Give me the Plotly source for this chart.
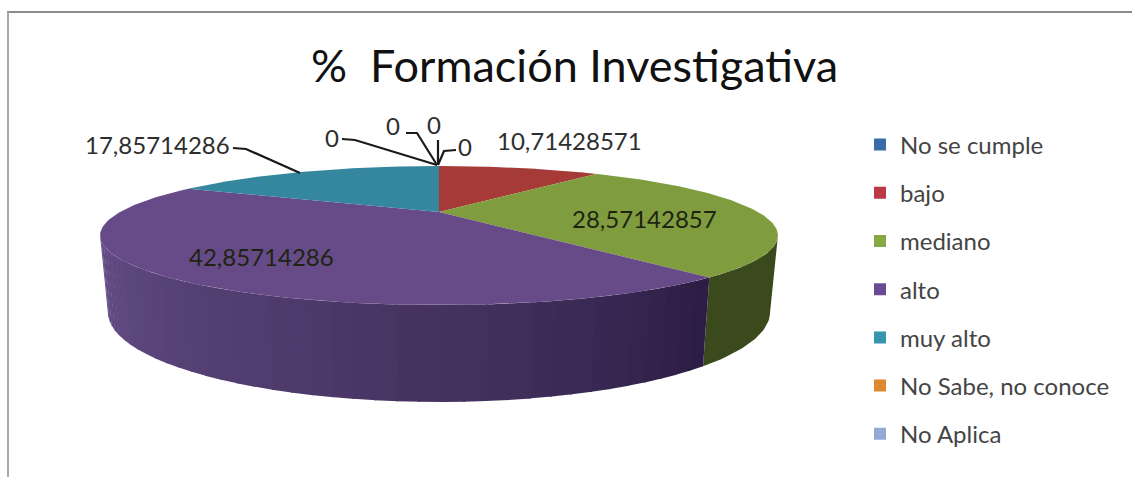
import numpy as np
import plotly.graph_objects as go

# ---- data ----
categories = ["No se cumple", "bajo", "mediano", "alto", "muy alto", "No Sabe, no conoce", "No Aplica"]
values = [0, 10.71428571, 28.57142857, 42.85714286, 17.85714286, 0, 0]
title_text = "%  Formación Investigativa"

# ---- styles ----
legend_colors = ["#376ca6", "#b83a44", "#86a845", "#6a4c93", "#3795ad", "#dd8a2e", "#93a9d3"]
top_colors = ["#376ca6", "#a63a36", "#7f9d3f", "#674a88", "#34879f", "#dd8a2e", "#93a9d3"]
side_colors = {0: "#223f60", 1: "#6d2a28", 2: "#3a4a1c", 4: "#225a6a", 5: "#8a5520", 6: "#5a6a85"}
purple_side_left = np.array([0x66, 0x4f, 0x88])
purple_side_right = np.array([0x2b, 0x1c, 0x42])
FONT = "Lato"

# ---- projection of the disc (pixel space axes) ----
CX, K = 439.0, 0.338
TOP = dict(a=319.0, b=61.6, c=212.0)
BOT = dict(a=311.6, b=79.6, c=281.7)


def ring(theta_deg, p):
    th = np.radians(theta_deg)
    u, v = np.sin(th), -np.cos(th)
    w = 1 - K * v
    return CX + p["a"] * u / w, p["c"] + p["b"] * v / w


fig = go.Figure()

# cumulative slice angles, clockwise from 12 o'clock
cum = np.concatenate([[0], np.cumsum(values)])
total = float(np.sum(values))
starts = cum[:-1] / total * 360
ends = cum[1:] / total * 360

vis_lo = np.degrees(np.arccos(-K))
vis_hi = 360 - vis_lo

# side wall
for i, (s, e) in enumerate(zip(starts, ends)):
    lo, hi = max(s, vis_lo), min(e, vis_hi)
    if values[i] == 0 or hi <= lo:
        continue
    n_strips = 40 if i == 3 else 1
    edges = np.linspace(lo, hi, n_strips + 1)
    for k in range(n_strips):
        th = np.linspace(edges[k], edges[k + 1] + (0.3 if k < n_strips - 1 else 0), 30)
        xt, yt = ring(th, TOP)
        xb, yb = ring(th[::-1], BOT)
        if i == 3:
            f = (k + 0.5) / n_strips
            rgb = purple_side_right + (purple_side_left - purple_side_right) * f ** 0.8
            col = "rgb(%d,%d,%d)" % tuple(rgb)
        else:
            col = side_colors[i]
        fig.add_trace(go.Scatter(x=np.r_[xt, xb], y=np.r_[yt, yb], mode="lines", fill="toself",
                                 fillcolor=col, line=dict(width=0), showlegend=False, hoverinfo="skip"))

# top faces
for i, (s, e) in enumerate(zip(starts, ends)):
    if values[i] == 0:
        continue
    th = np.linspace(s, e, 120)
    x, y = ring(th, TOP)
    fig.add_trace(go.Scatter(x=np.r_[CX, x, CX], y=np.r_[TOP["c"], y, TOP["c"]], mode="lines", fill="toself",
                             fillcolor=top_colors[i], line=dict(width=0), showlegend=False,
                             name=categories[i], hoverinfo="name"))

# legend entries
for i, c in enumerate(categories):
    fig.add_trace(go.Scatter(x=[None], y=[None], mode="markers", name=c, legendgroup=c,
                             marker=dict(symbol="square", size=12, color=legend_colors[i])))

# leader lines (label end -> disc)
leaders = [
    ([233, 246, 300], [148, 149, 173]),
    ([342, 355, 437], [139, 140, 165]),
    ([406, 417, 437], [133, 133, 165]),
    ([438, 438], [140, 165]),
    ([456, 444, 438], [150, 151, 165]),
]
for lx, ly in leaders:
    fig.add_trace(go.Scatter(x=lx, y=ly, mode="lines", line=dict(color="#1a1a1a", width=2.2),
                             showlegend=False, hoverinfo="skip"))


def fmt(v):
    return "0" if v == 0 else f"{v:.8f}".replace(".", ",")


label_pos = {
    0: (465, 146),
    1: (569, 140),
    2: (644, 218),
    3: (261, 256),
    4: (157, 144),
    5: (332, 137),
    6: (393, 125),
}
extra_zero = (434, 124)
annotations = []
for i, (x, y) in label_pos.items():
    annotations.append(dict(x=x, y=y, text=fmt(values[i]), showarrow=False, xref="x", yref="y",
                            font=dict(family=FONT, size=24, color="#2e2e2e" if i not in (2, 3) else "#1e2412")))
annotations.append(dict(x=extra_zero[0], y=extra_zero[1], text=fmt(values[0]), showarrow=False, xref="x", yref="y",
                        font=dict(family=FONT, size=24, color="#2e2e2e")))
annotations.append(dict(x=574, y=65, text=title_text, showarrow=False, xref="x", yref="y",
                        font=dict(family=FONT, size=45, color="#111111")))

fig.update_layout(
    width=1132, height=477, autosize=False,
    margin=dict(l=0, r=0, t=0, b=0),
    paper_bgcolor="white", plot_bgcolor="white",
    xaxis=dict(range=[0, 1132], visible=False, fixedrange=True),
    yaxis=dict(range=[477, 0], visible=False, fixedrange=True),
    annotations=annotations,
    legend=dict(x=860 / 1132, xanchor="left", y=1 - 122.5 / 477, yanchor="top", traceorder="grouped",
                tracegroupgap=14, font=dict(family=FONT, size=24, color="#444444"),
                itemwidth=30, bgcolor="rgba(0,0,0,0)"),
    shapes=[
        dict(type="line", xref="x", yref="y", x0=7, x1=1132, y0=12, y1=12, line=dict(color="#8c8c8c", width=2)),
        dict(type="line", xref="x", yref="y", x0=8, x1=8, y0=12, y1=477, line=dict(color="#a8a8a8", width=2)),
    ],
    showlegend=True,
)
fig.write_html("out.html", config={"displayModeBar": False},
               post_script="document.body.style.margin='0';document.body.style.overflow='hidden';")
